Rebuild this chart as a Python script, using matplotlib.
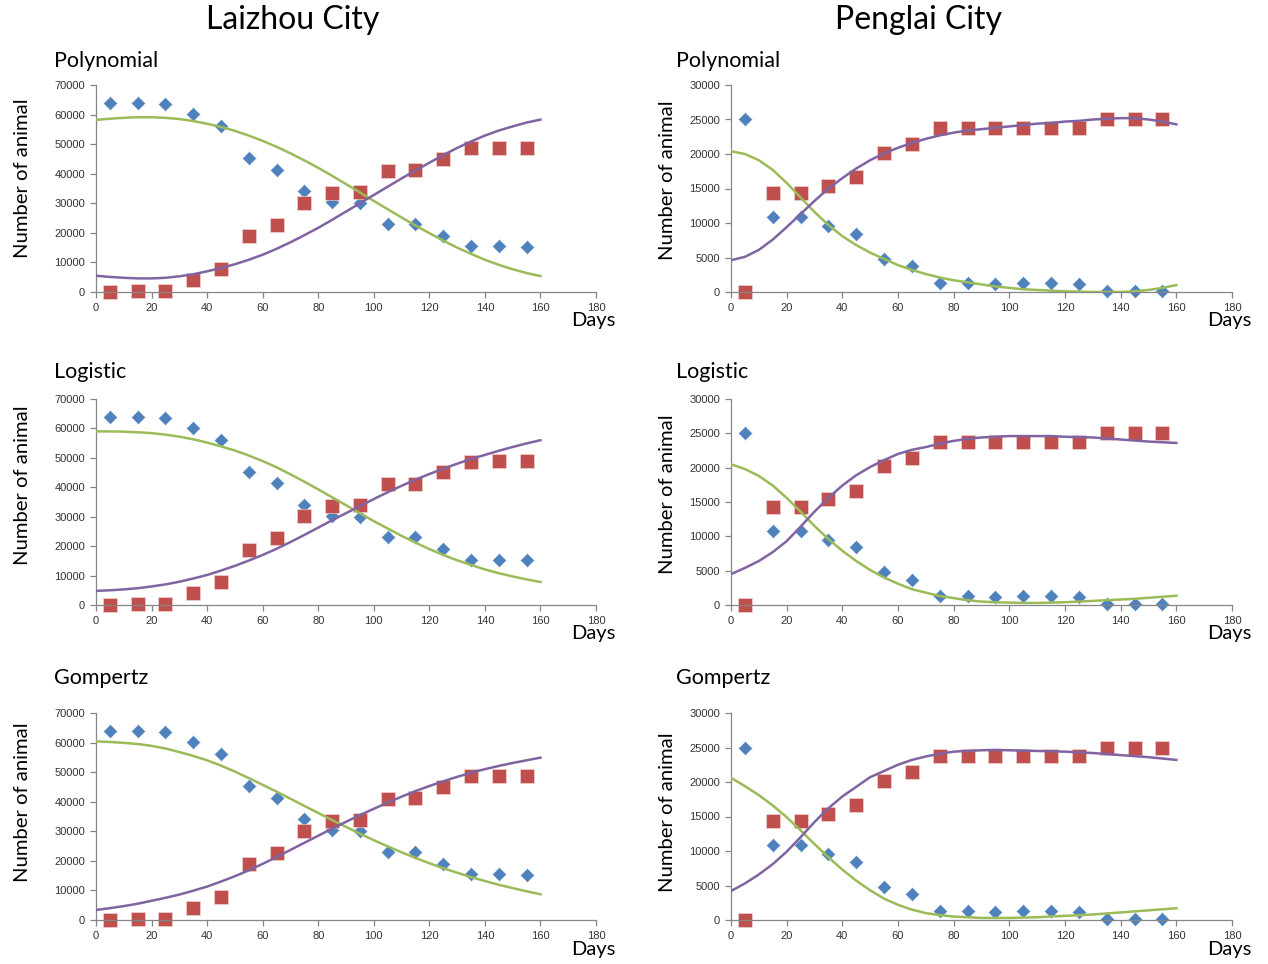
import matplotlib
matplotlib.use("Agg")
import matplotlib.pyplot as plt

# observed data
days = [5, 15, 25, 35, 45, 55, 65, 75, 85, 95, 105, 115, 125, 135, 145, 155]
laizhou_blue = [64000, 64000, 63700, 60200, 56200, 45200, 41400, 34000,
                30400, 30000, 23000, 23000, 19000, 15400, 15400, 15200]
laizhou_red = [0, 200, 200, 4000, 7800, 18800, 22600, 30100,
               33600, 33900, 41000, 41200, 45100, 48600, 48800, 48800]
penglai_blue = [25000, 10800, 10800, 9500, 8400, 4800, 3700, 1300,
                1300, 1200, 1300, 1300, 1200, 100, 100, 100]
penglai_red = [0, 14300, 14300, 15400, 16600, 20200, 21400, 23700,
               23700, 23700, 23700, 23700, 23800, 25000, 25000, 25000]

# fitted curves, every 5 days from 0 to 160
fit_days = list(range(0, 161, 5))
lz_poly_green = [58200, 58600, 58900, 59100, 59100, 58900, 58500, 57800, 56900, 55800, 54500,
                 52900, 51100, 49100, 46900, 44500, 42000, 39300, 36500, 33700, 30800, 28000,
                 25200, 22500, 19900, 17400, 15000, 12900, 10900, 9200, 7700, 6400, 5400]
lz_poly_purple = [5500, 5100, 4800, 4600, 4600, 4800, 5300, 6000, 7000, 8100, 9400,
                  10900, 12600, 14600, 16800, 19200, 21700, 24400, 27200, 30000, 32800, 35600,
                  38400, 41100, 43700, 46300, 48700, 50900, 52900, 54600, 56000, 57300, 58300]
lz_log_green = [59000, 59000, 58900, 58700, 58400, 57900, 57200, 56300, 55200, 53900, 52500,
                50800, 48900, 46800, 44400, 41900, 39300, 36600, 33900, 31200, 28500, 26000,
                23500, 21200, 19000, 17000, 15200, 13600, 12100, 10800, 9700, 8700, 7800]
lz_log_purple = [4800, 5000, 5300, 5700, 6300, 7000, 7900, 9000, 10200, 11700, 13300,
                 15100, 17000, 19100, 21400, 23800, 26300, 28800, 31200, 33600, 36000, 38300,
                 40500, 42600, 44500, 46300, 48000, 49600, 51000, 52400, 53700, 54900, 56000]
lz_gom_green = [60400, 60200, 59900, 59500, 58900, 58000, 56800, 55500, 54000, 52200, 50200,
                48000, 45700, 43400, 41000, 38600, 36200, 33800, 31500, 29200, 27000, 24900,
                22900, 21000, 19200, 17500, 16000, 14500, 13200, 11900, 10800, 9700, 8700]
lz_gom_purple = [3400, 4000, 4700, 5500, 6500, 7500, 8600, 9900, 11300, 13000, 14800,
                 16800, 19000, 21300, 23700, 26100, 28500, 30900, 33200, 35500, 37600, 39700,
                 41700, 43600, 45300, 46900, 48400, 49800, 51000, 52100, 53100, 54000, 54900]
pl_poly_green = [20400, 20000, 19100, 17700, 15800, 13700, 11600, 9700, 8100, 6800, 5700,
                 4800, 3900, 3200, 2600, 2100, 1700, 1400, 1100, 800, 600, 400,
                 300, 200, 100, 50, 0, 0, 0, 100, 300, 600, 1000]
pl_poly_purple = [4600, 5100, 6100, 7600, 9400, 11300, 13200, 15000, 16500, 17900, 19100,
                  20100, 20900, 21600, 22200, 22700, 23100, 23400, 23600, 23800, 24000, 24200,
                  24400, 24500, 24700, 24800, 25000, 25100, 25200, 25200, 25000, 24700, 24300]
pl_log_green = [20500, 19800, 18800, 17400, 15600, 13600, 11500, 9600, 7900, 6400, 5100,
                4000, 3100, 2300, 1800, 1300, 1000, 700, 500, 400, 350, 300,
                300, 350, 400, 500, 600, 700, 800, 900, 1050, 1200, 1350]
pl_log_purple = [4500, 5400, 6400, 7700, 9300, 11400, 13600, 15600, 17400, 18900, 20100,
                 21100, 22000, 22600, 23000, 23500, 23900, 24200, 24400, 24500, 24600, 24600,
                 24600, 24600, 24500, 24450, 24400, 24250, 24100, 23950, 23800, 23700, 23600]
pl_gom_green = [20600, 19400, 18100, 16600, 14900, 13000, 11000, 9100, 7300, 5700, 4300,
                3100, 2200, 1500, 1000, 700, 500, 400, 300, 300, 300, 350,
                400, 500, 600, 700, 800, 950, 1100, 1250, 1400, 1550, 1700]
pl_gom_purple = [4200, 5300, 6600, 8100, 9900, 12000, 14200, 16200, 17900, 19300, 20700,
                 21600, 22500, 23200, 23700, 24100, 24400, 24500, 24600, 24650, 24600, 24550,
                 24500, 24450, 24400, 24300, 24200, 24050, 23900, 23750, 23600, 23400, 23200]

titles = ["Polynomial", "Logistic", "Gompertz"]

BLUE = "#4F81BD"
RED = "#C0504D"
GREEN = "#9BBB59"
PURPLE = "#8064A2"

plt.rcParams["font.family"] = ["Lato", "DejaVu Sans"]

W, H = 1268, 964
fig = plt.figure(figsize=(W / 100, H / 100), dpi=100)

cols = [
    dict(left=96, right=596, ymax=70000, ystep=10000, blue=laizhou_blue, red=laizhou_red,
         fits=[(lz_poly_green, lz_poly_purple), (lz_log_green, lz_log_purple), (lz_gom_green, lz_gom_purple)],
         ylab_x=31, ylab_y=[0.55, 0.58, 0.57], sub_x=54),
    dict(left=731, right=1232, ymax=30000, ystep=5000, blue=penglai_blue, red=penglai_red,
         fits=[(pl_poly_green, pl_poly_purple), (pl_log_green, pl_log_purple), (pl_gom_green, pl_gom_purple)],
         ylab_x=676, ylab_y=[0.54, 0.54, 0.52], sub_x=676),
]
rows = [(85, 292, 61), (399, 605, 372), (713, 920, 678)]

for c in cols:
    for r, (top, bottom, sub_y) in enumerate(rows):
        ax = fig.add_axes([c["left"] / W, 1 - bottom / H,
                           (c["right"] - c["left"]) / W, (bottom - top) / H])
        green, purple = c["fits"][r]
        ax.plot(fit_days, green, color=GREEN, lw=1.8, zorder=3)
        ax.plot(fit_days, purple, color=PURPLE, lw=1.8, zorder=3)
        ax.plot(days, c["blue"], "D", color=BLUE, ms=7, mec="#DCE6F2", mew=0.4,
                zorder=2, clip_on=False)
        ax.plot(days, c["red"], "s", color=RED, ms=10, mec="#F2DCDB", mew=0.4,
                zorder=2, clip_on=False)
        ax.set_xlim(0, 180)
        ax.set_ylim(0, c["ymax"])
        ax.set_xticks(range(0, 181, 20))
        ax.set_yticks(range(0, c["ymax"] + 1, c["ystep"]))
        ax.set_facecolor("none")
        for s in ["top", "right"]:
            ax.spines[s].set_visible(False)
        for s in ["left", "bottom"]:
            ax.spines[s].set_color("#868686")
            ax.spines[s].set_linewidth(0.9)
        ax.tick_params(colors="#868686", labelcolor="#333333", labelsize=8,
                       length=4, width=0.9, direction="out", pad=4)
        for lab in ax.get_xticklabels() + ax.get_yticklabels():
            lab.set_fontfamily(["Liberation Sans", "DejaVu Sans"])
        ax.set_ylabel("Number of animal", fontsize=14.6)
        ax.yaxis.set_label_coords((c["ylab_x"] - c["left"]) / (c["right"] - c["left"]),
                                  c["ylab_y"][r])
        fig.text((c["right"] - 3) / W, 1 - (bottom + 29) / H, "Days",
                 fontsize=14.5, ha="center", va="center")
        fig.text(c["sub_x"] / W, 1 - sub_y / H, titles[r], fontsize=15.5,
                 ha="left", va="center")

fig.text(293 / W, 1 - 20 / H, "Laizhou City", fontsize=23, ha="center", va="center")
fig.text(918 / W, 1 - 20 / H, "Penglai City", fontsize=23, ha="center", va="center")

fig.savefig("out.png", dpi=100, facecolor="white")
